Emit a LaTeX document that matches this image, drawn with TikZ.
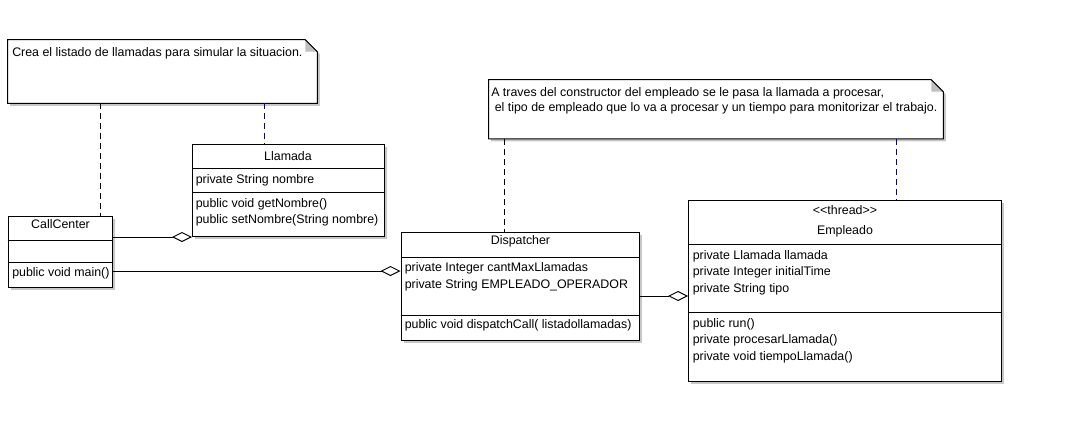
\documentclass[tikz,border=0pt]{standalone}
\usepackage{fontspec}
\setmainfont{Liberation Sans}
\usetikzlibrary{arrows.meta,fit,shadows}

\tikzset{
  umlline/.style={line width=0.75pt},
  classbox/.style={draw, line width=0.75pt, fill=white, inner sep=0pt,
    drop shadow={shadow xshift=1.9pt, shadow yshift=-1.9pt, fill=black!22, opacity=1}},
  membertext/.style={anchor=base west, inner sep=0pt},
  titletext/.style={anchor=base, inner sep=0pt},
  notelink/.style={line width=0.75pt, dash pattern=on 4.5pt off 3pt},
  aggregation/.style={line width=0.75pt,
    -{Diamond[open, length=15pt, width=7.5pt, line width=0.75pt]}},
}

\begin{document}
\begin{tikzpicture}[x=0.75pt, y=-0.75pt]
{\fontsize{9.3}{11}\selectfont
\useasboundingbox (0,0) rectangle (1072,421);

% Note for CallCenter
\node[fit={(8,40) (317,103)}, inner sep=0pt] (note1) {};
\fill[black!22] ([shift={(2.5,2.5)}]note1.north west) -- ([shift={(-9.5,2.5)}]note1.north east)
  -- ([shift={(2.5,14.5)}]note1.north east) -- ([shift={(2.5,2.5)}]note1.south east)
  -- ([shift={(2.5,2.5)}]note1.south west) -- cycle;
\draw[umlline, fill=white] (note1.north west) -- ([shift={(-12,0)}]note1.north east)
  -- ([shift={(0,12)}]note1.north east) -- (note1.south east) -- (note1.south west) -- cycle;
\fill[black!25] ([shift={(-12,0)}]note1.north east) -- ([shift={(-12,12)}]note1.north east)
  -- ([shift={(0,12)}]note1.north east) -- cycle;
\draw[umlline] ([shift={(-12,0)}]note1.north east) -- ([shift={(0,12)}]note1.north east);
\node[membertext] (note1-text) at (12,56) {Crea el listado de llamadas para simular la situacion.};

% Note for Dispatcher and Empleado
\node[fit={(489,80) (943,138.5)}, inner sep=0pt] (note2) {};
\fill[black!22] ([shift={(2.5,2.5)}]note2.north west) -- ([shift={(-9.5,2.5)}]note2.north east)
  -- ([shift={(2.5,14.5)}]note2.north east) -- ([shift={(2.5,2.5)}]note2.south east)
  -- ([shift={(2.5,2.5)}]note2.south west) -- cycle;
\draw[umlline, fill=white] (note2.north west) -- ([shift={(-12,0)}]note2.north east)
  -- ([shift={(0,12)}]note2.north east) -- (note2.south east) -- (note2.south west) -- cycle;
\fill[black!25] ([shift={(-12,0)}]note2.north east) -- ([shift={(-12,12)}]note2.north east)
  -- ([shift={(0,12)}]note2.north east) -- cycle;
\draw[umlline] ([shift={(-12,0)}]note2.north east) -- ([shift={(0,12)}]note2.north east);
\node[membertext] (note2-line1) at (491,96) {A traves del constructor del empleado se le pasa la llamada a procesar,};
\node[membertext] (note2-line2) at (494.5,111) {el tipo de empleado que lo va a procesar y un tiempo para monitorizar el trabajo.};

% Class CallCenter
\node[classbox, fit={(8,216.5) (112,287)}] (callcenter) {};
\draw[umlline] (callcenter.west |- 0,240.5) -- (callcenter.east |- 0,240.5);
\draw[umlline] (callcenter.west |- 0,262) -- (callcenter.east |- 0,262);
\node[titletext] (callcenter-title) at (60.5,228.5) {CallCenter};
\node[membertext] (callcenter-m1) at (12,276) {public void main()};

% Class Llamada
\node[classbox, fit={(192.5,144.5) (384,236.5)}] (llamada) {};
\draw[umlline] (llamada.west |- 0,168.5) -- (llamada.east |- 0,168.5);
\draw[umlline] (llamada.west |- 0,192.5) -- (llamada.east |- 0,192.5);
\node[titletext] (llamada-title) at (288,160) {Llamada};
\node[membertext] (llamada-a1) at (195.5,183) {private String nombre};
\node[membertext] (llamada-m1) at (195.5,207) {public void getNombre()};
\node[membertext] (llamada-m2) at (195.5,223) {public setNombre(String nombre)};

% Class Dispatcher
\node[classbox, fit={(401,232.5) (639.5,340.5)}] (dispatcher) {};
\draw[umlline] (dispatcher.west |- 0,257) -- (dispatcher.east |- 0,257);
\draw[umlline] (dispatcher.west |- 0,315) -- (dispatcher.east |- 0,315);
\node[titletext] (dispatcher-title) at (520.5,244.5) {Dispatcher};
\node[membertext] (dispatcher-a1) at (404.5,271) {private Integer cantMaxLlamadas};
\node[membertext] (dispatcher-a2) at (404.5,288) {private String EMPLEADO\_OPERADOR};
\node[membertext] (dispatcher-m1) at (404.5,328.5) {public void dispatchCall( listadollamadas)};

% Class Empleado
\node[classbox, fit={(688.5,200.5) (1001,381)}] (empleado) {};
\draw[umlline] (empleado.west |- 0,244.5) -- (empleado.east |- 0,244.5);
\draw[umlline] (empleado.west |- 0,312.5) -- (empleado.east |- 0,312.5);
\node[titletext] (empleado-stereo) at (845,214) {<\kern0pt<thread>\kern0pt>};
\node[titletext] (empleado-title) at (845,234.5) {Empleado};
\node[membertext] (empleado-a1) at (692.5,259) {private Llamada llamada};
\node[membertext] (empleado-a2) at (692.5,275.5) {private Integer initialTime};
\node[membertext] (empleado-a3) at (692.5,292.5) {private String tipo};
\node[membertext] (empleado-m1) at (692.5,327) {public run()};
\node[membertext] (empleado-m2) at (692.5,343.5) {private procesarLlamada()};
\node[membertext] (empleado-m3) at (692.5,360.5) {private void tiempoLlamada()};

% Links from notes to classes
\draw[notelink] (note1.south -| 100.5,0) -- (callcenter.north -| 100.5,0);
\draw[notelink, blue!70!black] (note1.south -| 264.5,0) -- (llamada.north -| 264.5,0);
\draw[notelink] (note2.south -| 504.5,0) -- (dispatcher.north -| 504.5,0);
\draw[notelink, blue!70!black] (note2.south -| 896,0) -- (empleado.north -| 896,0);

% Aggregations
\draw[aggregation] (callcenter.east |- llamada.south west) -- (llamada.south west);
\draw[aggregation] (callcenter.east |- 0,271) -- (dispatcher.west |- 0,271);
\draw[aggregation] (dispatcher.east |- 0,296) -- (empleado.west |- 0,296);
}
\end{tikzpicture}
\end{document}
